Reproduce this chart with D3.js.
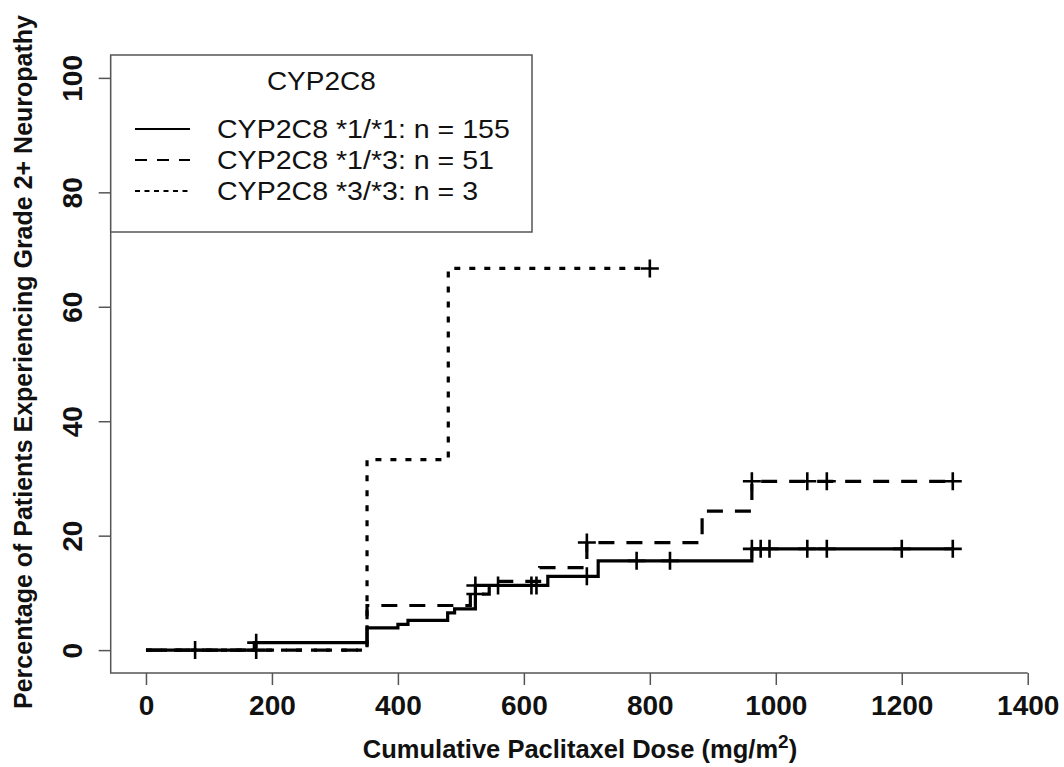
<!DOCTYPE html>
<html><head><meta charset="utf-8">
<script src="https://cdn.jsdelivr.net/npm/d3@7"></script>
<style>body{margin:0;background:#fff}svg{display:block}</style>
</head><body><svg id="c" width="1064" height="767"></svg>
<script>
// ---- data ----
const xTicks = [0,200,400,600,800,1000,1200,1400];
const yTicks = [0,20,40,60,80,100];
const legendTitle = "CYP2C8";
const seriesNames = ["CYP2C8 *1/*1: n = 155","CYP2C8 *1/*3: n = 51","CYP2C8 *3/*3: n = 3"];
// *1/*1
const s11Times = [0,172,351,400,416,479,490,523,638,718,962];
const s11Pct   = [0,1.3,3.9,4.5,5.2,6.5,7.2,11.3,12.9,15.6,17.7];
const s11End = 1281;
const s11Censor = [78,175,523,559,612,620,700,779,832,962,976,990,1050,1081,1200,1281];
// *1/*3
const s13Times = [0,351,515,545,625,700,883,962];
const s13Pct   = [0,7.8,9.8,12.0,14.4,18.8,24.3,29.5];
const s13End = 1281;
const s13Censor = [175,523,700,962,1050,1081,1281];
// *3/*3
const s33Times = [0,351,480];
const s33Pct   = [0,33.3,66.7];
const s33End = 800;
const s33Censor = [800];

const svg = d3.select("#c");
const x = d3.scaleLinear().domain([-56,1456]).range([110.7,1063]);
const y = d3.scaleLinear().domain([-4,104]).range([673,55]);
const axisCol = "#555";
const FONT = "Liberation Sans, Arial, sans-serif";

// frame: left side + bottom axis line
svg.append("path").attr("d",`M${x(-56)},${y(104)}V${y(-4)}H${x(1400)}`)
  .attr("fill","none").attr("stroke",axisCol).attr("stroke-width",1.5);

// x axis
const gx = svg.append("g").attr("transform",`translate(0,${y(-4)})`)
  .call(d3.axisBottom(x).tickValues(xTicks).tickSize(12).tickPadding(10).tickFormat(d3.format("d")));
gx.select(".domain").remove();
gx.selectAll("line").attr("stroke",axisCol).attr("stroke-width",1.5);
gx.selectAll("text").attr("font-family",FONT).attr("font-weight","bold")
  .attr("font-size",28).attr("fill","#111");

// y axis
const gy = svg.append("g").attr("transform",`translate(${x(-56)},0)`)
  .call(d3.axisLeft(y).tickValues(yTicks).tickSize(12).tickFormat(d3.format("d")));
gy.select(".domain").remove();
gy.selectAll("line").attr("stroke",axisCol).attr("stroke-width",1.5);
gy.selectAll("text").attr("font-family",FONT).attr("font-weight","bold")
  .attr("font-size",28).attr("fill","#111")
  .attr("text-anchor","middle").attr("dy","0").attr("x",0).attr("y",0)
  .attr("transform", `translate(${72-x(-56)+10},0) rotate(-90)`);

// axis titles
const xt = svg.append("text").attr("x",580).attr("y",758).attr("text-anchor","middle")
  .attr("font-family",FONT).attr("font-weight","bold").attr("font-size",25.5).attr("fill","#111");
xt.append("tspan").text("Cumulative Paclitaxel Dose (mg/m");
xt.append("tspan").text("2").attr("font-size",19).attr("dy",-10);
xt.append("tspan").text(")").attr("dy",10);

svg.append("text").attr("transform",`translate(32,362) rotate(-90)`).attr("text-anchor","middle")
  .attr("font-family",FONT).attr("font-weight","bold").attr("font-size",25).attr("fill","#111")
  .text("Percentage of Patients Experiencing Grade 2+ Neuropathy");

// curves
const styles = ["none","16,12","6,9"];
const series = [
  {t:s11Times,p:s11Pct,end:s11End,c:s11Censor},
  {t:s13Times,p:s13Pct,end:s13End,c:s13Censor},
  {t:s33Times,p:s33Pct,end:s33End,c:s33Censor}
];
const line = d3.line().x(d=>x(d[0])).y(d=>y(d[1])).curve(d3.curveStepAfter);
function levelAt(s,tt){ let v=0; for(let i=0;i<s.t.length;i++){ if(s.t[i]<=tt) v=s.p[i]; } return v; }
series.forEach((s,i)=>{
  const pts = s.t.map((tt,j)=>[tt,s.p[j]]);
  pts.push([s.end,s.p[s.p.length-1]]);
  svg.append("path").attr("d",line(pts)).attr("fill","none").attr("stroke","#000")
    .attr("stroke-width",3.2).attr("stroke-dasharray",styles[i]);
  s.c.forEach(ct=>{
    const cx=x(ct), cy=y(levelAt(s,ct));
    svg.append("path").attr("d",`M${cx-9},${cy}H${cx+9}M${cx},${cy-9}V${cy+9}`)
      .attr("stroke","#000").attr("stroke-width",2.6).attr("fill","none");
  });
});

// legend
const lg = svg.append("g");
const lgLeft = x(-56), lgTop = y(104), lgRight = 532, lgBottom = 232;
lg.append("rect").attr("x",lgLeft).attr("y",lgTop).attr("width",lgRight-lgLeft).attr("height",lgBottom-lgTop)
  .attr("fill","#fff").attr("stroke",axisCol).attr("stroke-width",1.5);
lg.append("text").attr("transform",`translate(${(lgLeft+lgRight)/2},90) scale(1.12,1)`).attr("text-anchor","middle")
  .attr("font-family",FONT).attr("font-size",25).attr("fill","#111").text(legendTitle);
const lgDash = ["none","12,10","5,4.5"];
seriesNames.forEach((n,i)=>{
  const cy = 129 + i*31;
  lg.append("line").attr("x1",135).attr("x2",190).attr("y1",cy).attr("y2",cy)
    .attr("stroke","#000").attr("stroke-width",2).attr("stroke-dasharray",lgDash[i]);
  lg.append("text").attr("transform",`translate(217,${cy+9}) scale(1.12,1)`)
    .attr("font-family",FONT).attr("font-size",25.5).attr("fill","#111").text(n);
});
</script></body></html>
